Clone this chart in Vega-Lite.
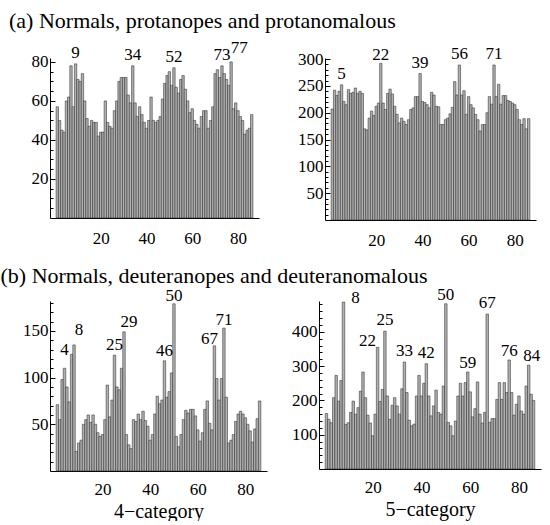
{
  "$schema": "https://vega.github.io/schema/vega-lite/v6.json",
  "padding": {"left": 0, "top": 9, "right": 2, "bottom": 0},
  "background": "white",
  "spacing": 16,
  "config": {
    "font": "Liberation Serif",
    "view": {"stroke": null},
    "axis": {"labelFont": "Liberation Serif", "labelFontSize": 17, "labelColor": "#000", "domainColor": "#000", "tickColor": "#000", "grid": false, "titleFont": "Liberation Serif", "titleFontWeight": "normal", "titleColor": "#000", "titleFontSize": 20},
    "text": {"font": "Liberation Serif", "fontSize": 17, "color": "#000"}
  },
  "datasets": {
    "a1": [{"x":1,"v":57},{"x":2,"v":50},{"x":3,"v":45},{"x":4,"v":44},{"x":5,"v":60},{"x":6,"v":62},{"x":7,"v":78},{"x":8,"v":57},{"x":9,"v":79},{"x":10,"v":71},{"x":11,"v":70},{"x":12,"v":74},{"x":13,"v":60},{"x":14,"v":51},{"x":15,"v":47},{"x":16,"v":50},{"x":17,"v":49},{"x":18,"v":49},{"x":19,"v":42},{"x":20,"v":44},{"x":21,"v":44},{"x":22,"v":60},{"x":23,"v":49},{"x":24,"v":47},{"x":25,"v":46},{"x":26,"v":55},{"x":27,"v":60},{"x":28,"v":70},{"x":29,"v":72},{"x":30,"v":72},{"x":31,"v":72},{"x":32,"v":63},{"x":33,"v":59},{"x":34,"v":78},{"x":35,"v":59},{"x":36,"v":52},{"x":37,"v":57},{"x":38,"v":53},{"x":39,"v":49},{"x":40,"v":46},{"x":41,"v":50},{"x":42,"v":62},{"x":43,"v":50},{"x":44,"v":49},{"x":45,"v":50},{"x":46,"v":52},{"x":47,"v":61},{"x":48,"v":69},{"x":49,"v":73},{"x":50,"v":75},{"x":51,"v":68},{"x":52,"v":77},{"x":53,"v":67},{"x":54,"v":64},{"x":55,"v":71},{"x":56,"v":73},{"x":57,"v":66},{"x":58,"v":60},{"x":59,"v":54},{"x":60,"v":56},{"x":61,"v":50},{"x":62,"v":48},{"x":63,"v":46},{"x":64,"v":52},{"x":65,"v":55},{"x":66,"v":55},{"x":67,"v":46},{"x":68,"v":50},{"x":69,"v":57},{"x":70,"v":74},{"x":71,"v":76},{"x":72,"v":72},{"x":73,"v":78},{"x":74,"v":74},{"x":75,"v":71},{"x":76,"v":68},{"x":77,"v":80},{"x":78,"v":56},{"x":79,"v":59},{"x":80,"v":55},{"x":81,"v":52},{"x":82,"v":50},{"x":83,"v":43},{"x":84,"v":45},{"x":85,"v":46},{"x":86,"v":53}],
    "a2": [{"x":1,"v":207},{"x":2,"v":242},{"x":3,"v":232},{"x":4,"v":240},{"x":5,"v":252},{"x":6,"v":221},{"x":7,"v":215},{"x":8,"v":243},{"x":9,"v":236},{"x":10,"v":238},{"x":11,"v":246},{"x":12,"v":236},{"x":13,"v":240},{"x":14,"v":236},{"x":15,"v":170},{"x":16,"v":168},{"x":17,"v":190},{"x":18,"v":203},{"x":19,"v":195},{"x":20,"v":212},{"x":21,"v":218},{"x":22,"v":292},{"x":23,"v":218},{"x":24,"v":206},{"x":25,"v":236},{"x":26,"v":244},{"x":27,"v":235},{"x":28,"v":212},{"x":29,"v":197},{"x":30,"v":181},{"x":31,"v":190},{"x":32,"v":184},{"x":33,"v":178},{"x":34,"v":187},{"x":35,"v":206},{"x":36,"v":209},{"x":37,"v":230},{"x":38,"v":230},{"x":39,"v":273},{"x":40,"v":221},{"x":41,"v":219},{"x":42,"v":215},{"x":43,"v":209},{"x":44,"v":238},{"x":45,"v":233},{"x":46,"v":212},{"x":47,"v":211},{"x":48,"v":178},{"x":49,"v":178},{"x":50,"v":187},{"x":51,"v":190},{"x":52,"v":198},{"x":53,"v":210},{"x":54,"v":258},{"x":55,"v":233},{"x":56,"v":289},{"x":57,"v":233},{"x":58,"v":241},{"x":59,"v":197},{"x":60,"v":230},{"x":61,"v":215},{"x":62,"v":209},{"x":63,"v":197},{"x":64,"v":187},{"x":65,"v":166},{"x":66,"v":178},{"x":67,"v":178},{"x":68,"v":200},{"x":69,"v":230},{"x":70,"v":216},{"x":71,"v":289},{"x":72,"v":230},{"x":73,"v":253},{"x":74,"v":216},{"x":75,"v":232},{"x":76,"v":232},{"x":77,"v":223},{"x":78,"v":221},{"x":79,"v":218},{"x":80,"v":215},{"x":81,"v":206},{"x":82,"v":187},{"x":83,"v":178},{"x":84,"v":189},{"x":85,"v":170},{"x":86,"v":189}],
    "b1": [{"x":1,"v":71},{"x":2,"v":55},{"x":3,"v":98},{"x":4,"v":110},{"x":5,"v":90},{"x":6,"v":74},{"x":7,"v":125},{"x":8,"v":135},{"x":9,"v":21},{"x":10,"v":30},{"x":11,"v":33},{"x":12,"v":50},{"x":13,"v":55},{"x":14,"v":60},{"x":15,"v":52},{"x":16,"v":60},{"x":17,"v":50},{"x":18,"v":41},{"x":19,"v":37},{"x":20,"v":39},{"x":21,"v":55},{"x":22,"v":92},{"x":23,"v":58},{"x":24,"v":76},{"x":25,"v":124},{"x":26,"v":90},{"x":27,"v":87},{"x":28,"v":110},{"x":29,"v":149},{"x":30,"v":39},{"x":31,"v":28},{"x":32,"v":24},{"x":33,"v":55},{"x":34,"v":53},{"x":35,"v":61},{"x":36,"v":55},{"x":37,"v":64},{"x":38,"v":54},{"x":39,"v":48},{"x":40,"v":33},{"x":41,"v":39},{"x":42,"v":61},{"x":43,"v":80},{"x":44,"v":72},{"x":45,"v":76},{"x":46,"v":118},{"x":47,"v":79},{"x":48,"v":85},{"x":49,"v":105},{"x":50,"v":179},{"x":51,"v":37},{"x":52,"v":26},{"x":53,"v":39},{"x":54,"v":55},{"x":55,"v":65},{"x":56,"v":62},{"x":57,"v":66},{"x":58,"v":66},{"x":59,"v":59},{"x":60,"v":44},{"x":61,"v":32},{"x":62,"v":41},{"x":63,"v":66},{"x":64,"v":75},{"x":65,"v":51},{"x":66,"v":44},{"x":67,"v":134},{"x":68,"v":99},{"x":69,"v":76},{"x":70,"v":99},{"x":71,"v":153},{"x":72,"v":79},{"x":73,"v":30},{"x":74,"v":33},{"x":75,"v":39},{"x":76,"v":53},{"x":77,"v":61},{"x":78,"v":64},{"x":79,"v":61},{"x":80,"v":57},{"x":81,"v":50},{"x":82,"v":43},{"x":83,"v":31},{"x":84,"v":45},{"x":85,"v":56},{"x":86,"v":75}],
    "b2": [{"x":1,"v":162},{"x":2,"v":145},{"x":3,"v":135},{"x":4,"v":208},{"x":5,"v":273},{"x":6,"v":198},{"x":7,"v":258},{"x":8,"v":487},{"x":9,"v":130},{"x":10,"v":135},{"x":11,"v":165},{"x":12,"v":198},{"x":13,"v":160},{"x":14,"v":179},{"x":15,"v":227},{"x":16,"v":283},{"x":17,"v":208},{"x":18,"v":157},{"x":19,"v":134},{"x":20,"v":97},{"x":21,"v":160},{"x":22,"v":355},{"x":23,"v":197},{"x":24,"v":232},{"x":25,"v":402},{"x":26,"v":213},{"x":27,"v":145},{"x":28,"v":186},{"x":29,"v":208},{"x":30,"v":184},{"x":31,"v":160},{"x":32,"v":234},{"x":33,"v":312},{"x":34,"v":223},{"x":35,"v":142},{"x":36,"v":126},{"x":37,"v":131},{"x":38,"v":213},{"x":39,"v":273},{"x":40,"v":213},{"x":41,"v":250},{"x":42,"v":307},{"x":43,"v":213},{"x":44,"v":155},{"x":45,"v":184},{"x":46,"v":230},{"x":47,"v":165},{"x":48,"v":160},{"x":49,"v":242},{"x":50,"v":482},{"x":51,"v":136},{"x":52,"v":126},{"x":53,"v":97},{"x":54,"v":140},{"x":55,"v":213},{"x":56,"v":250},{"x":57,"v":213},{"x":58,"v":252},{"x":59,"v":283},{"x":60,"v":225},{"x":61,"v":152},{"x":62,"v":176},{"x":63,"v":254},{"x":64,"v":160},{"x":65,"v":134},{"x":66,"v":165},{"x":67,"v":452},{"x":68,"v":136},{"x":69,"v":147},{"x":70,"v":147},{"x":71,"v":203},{"x":72,"v":252},{"x":73,"v":203},{"x":74,"v":252},{"x":75,"v":223},{"x":76,"v":318},{"x":77,"v":223},{"x":78,"v":157},{"x":79,"v":189},{"x":80,"v":213},{"x":81,"v":169},{"x":82,"v":160},{"x":83,"v":242},{"x":84,"v":303},{"x":85,"v":218},{"x":86,"v":200}]
  },
  "vconcat": [
    {
      "title": {"text": "(a) Normals, protanopes and protanomalous", "anchor": "start", "font": "Liberation Serif", "fontSize": 22, "fontWeight": "normal", "color": "#000", "dx": -22, "offset": 6},
      "spacing": 38,
      "hconcat": [
        {
          "width": 209, "height": 160,
          "data": {"name": "a1"},
          "encoding": {
            "x": {"field": "x", "type": "quantitative", "scale": {"domain": [0, 87], "nice": false}, "axis": {"values": [20, 40, 60, 80], "ticks": false, "labelPadding": 12, "labelFont": "Liberation Serif", "title": null}},
            "y": {"field": "v", "type": "quantitative", "scale": {"domain": [0, 82], "nice": false}, "axis": {"values": [5,10,15,20,25,30,35,40,45,50,55,60,65,70,75,80], "labelExpr": "datum.value % 20 === 0 ? datum.label : ''", "labelFont": "Liberation Serif", "tickSize": {"condition": {"test": "datum.value % 20 === 0", "value": -5}, "value": -3}, "labelPadding": 7, "title": null}}
          },
          "layer": [
            {"mark": {"type": "bar", "width": 2.4, "fill": "#b0b0b0", "stroke": "#222", "strokeWidth": 0.5}},
            {"transform": [{"filter": {"field": "x", "oneOf": [9, 34, 52, 73]}}], "mark": {"type": "text", "dy": -11, "font": "Liberation Serif", "fontSize": 17}, "encoding": {"text": {"field": "x"}}},
            {"transform": [{"filter": {"field": "x", "oneOf": [77]}}], "mark": {"type": "text", "dy": -14, "dx": 8, "font": "Liberation Serif", "fontSize": 17}, "encoding": {"text": {"field": "x"}}}
          ]
        },
        {
          "width": 211, "height": 162,
          "data": {"name": "a2"},
          "encoding": {
            "x": {"field": "x", "type": "quantitative", "scale": {"domain": [0, 87], "nice": false}, "axis": {"values": [20, 40, 60, 80], "ticks": false, "labelPadding": 12, "labelFont": "Liberation Serif", "title": null}},
            "y": {"field": "v", "type": "quantitative", "scale": {"domain": [0, 302], "nice": false}, "axis": {"values": [10,20,30,40,50,60,70,80,90,100,110,120,130,140,150,160,170,180,190,200,210,220,230,240,250,260,270,280,290,300], "labelExpr": "datum.value % 50 === 0 ? datum.label : ''", "labelFont": "Liberation Serif", "tickSize": {"condition": {"test": "datum.value % 50 === 0", "value": -5}, "value": -3}, "labelPadding": 7, "title": null}}
          },
          "layer": [
            {"mark": {"type": "bar", "width": 2.4, "fill": "#b0b0b0", "stroke": "#222", "strokeWidth": 0.5}},
            {"transform": [{"filter": {"field": "x", "oneOf": [5, 39, 56, 71]}}], "mark": {"type": "text", "dy": -11, "font": "Liberation Serif", "fontSize": 17}, "encoding": {"text": {"field": "x"}}},
            {"transform": [{"filter": {"field": "x", "oneOf": [22]}}], "mark": {"type": "text", "dy": -8, "font": "Liberation Serif", "fontSize": 17}, "encoding": {"text": {"field": "x"}}}
          ]
        }
      ]
    },
    {
      "title": {"text": "(b) Normals, deuteranopes and deuteranomalous", "anchor": "start", "font": "Liberation Serif", "fontSize": 22, "fontWeight": "normal", "color": "#000", "dx": -22, "offset": -2},
      "spacing": 24,
      "hconcat": [
        {
          "width": 217, "height": 170,
          "data": {"name": "b1"},
          "encoding": {
            "x": {"field": "x", "type": "quantitative", "scale": {"domain": [0, 87], "nice": false}, "axis": {"values": [20, 40, 60, 80], "ticks": false, "labelPadding": 10, "labelFont": "Liberation Serif", "title": "4−category", "titlePadding": 4}},
            "y": {"field": "v", "type": "quantitative", "scale": {"domain": [0, 182], "nice": false}, "axis": {"values": [10,20,30,40,50,60,70,80,90,100,110,120,130,140,150,160,170,180], "labelExpr": "datum.value % 50 === 0 ? datum.label : ''", "labelFont": "Liberation Serif", "tickSize": {"condition": {"test": "datum.value % 50 === 0", "value": -5}, "value": -3}, "labelPadding": 7, "title": null}}
          },
          "layer": [
            {"mark": {"type": "bar", "width": 2.5, "fill": "#b0b0b0", "stroke": "#222", "strokeWidth": 0.5}},
            {"transform": [{"filter": {"field": "x", "oneOf": [25, 46]}}], "mark": {"type": "text", "dy": -10, "font": "Liberation Serif", "fontSize": 17}, "encoding": {"text": {"field": "x"}}},
            {"transform": [{"filter": {"field": "x", "oneOf": [50, 71]}}], "mark": {"type": "text", "dy": -8, "font": "Liberation Serif", "fontSize": 17}, "encoding": {"text": {"field": "x"}}},
            {"transform": [{"filter": {"field": "x", "oneOf": [4]}}], "mark": {"type": "text", "dy": -18, "font": "Liberation Serif", "fontSize": 17}, "encoding": {"text": {"field": "x"}}},
            {"transform": [{"filter": {"field": "x", "oneOf": [8]}}], "mark": {"type": "text", "dy": -15, "dx": 5, "font": "Liberation Serif", "fontSize": 17}, "encoding": {"text": {"field": "x"}}},
            {"transform": [{"filter": {"field": "x", "oneOf": [29]}}], "mark": {"type": "text", "dy": -10, "dx": 5, "font": "Liberation Serif", "fontSize": 17}, "encoding": {"text": {"field": "x"}}},
            {"transform": [{"filter": {"field": "x", "oneOf": [67]}}], "mark": {"type": "text", "dy": -7, "dx": -5, "font": "Liberation Serif", "fontSize": 17}, "encoding": {"text": {"field": "x"}}}
          ]
        },
        {
          "width": 222, "height": 168,
          "data": {"name": "b2"},
          "encoding": {
            "x": {"field": "x", "type": "quantitative", "scale": {"domain": [0, 87], "nice": false}, "axis": {"values": [20, 40, 60, 80], "ticks": false, "labelPadding": 10, "labelFont": "Liberation Serif", "title": "5−category", "titlePadding": 4}},
            "y": {"field": "v", "type": "quantitative", "scale": {"domain": [0, 490], "nice": false}, "axis": {"values": [20,40,60,80,100,120,140,160,180,200,220,240,260,280,300,320,340,360,380,400,420,440,460,480], "labelExpr": "datum.value % 100 === 0 ? datum.label : ''", "labelFont": "Liberation Serif", "tickSize": {"condition": {"test": "datum.value % 100 === 0", "value": -5}, "value": -3}, "labelPadding": 7, "title": null}}
          },
          "layer": [
            {"mark": {"type": "bar", "width": 2.5, "fill": "#b0b0b0", "stroke": "#222", "strokeWidth": 0.5}},
            {"transform": [{"filter": {"field": "x", "oneOf": [25, 33, 42, 67]}}], "mark": {"type": "text", "dy": -11, "font": "Liberation Serif", "fontSize": 17}, "encoding": {"text": {"field": "x"}}},
            {"transform": [{"filter": {"field": "x", "oneOf": [50, 59, 76]}}], "mark": {"type": "text", "dy": -9, "font": "Liberation Serif", "fontSize": 17}, "encoding": {"text": {"field": "x"}}},
            {"transform": [{"filter": {"field": "x", "oneOf": [8]}}], "mark": {"type": "text", "dy": -4, "dx": 12, "font": "Liberation Serif", "fontSize": 17}, "encoding": {"text": {"field": "x"}}},
            {"transform": [{"filter": {"field": "x", "oneOf": [22]}}], "mark": {"type": "text", "dy": -6, "dx": -10, "font": "Liberation Serif", "fontSize": 17}, "encoding": {"text": {"field": "x"}}},
            {"transform": [{"filter": {"field": "x", "oneOf": [84]}}], "mark": {"type": "text", "dy": -9, "dx": 3, "font": "Liberation Serif", "fontSize": 17}, "encoding": {"text": {"field": "x"}}}
          ]
        }
      ]
    }
  ]
}
